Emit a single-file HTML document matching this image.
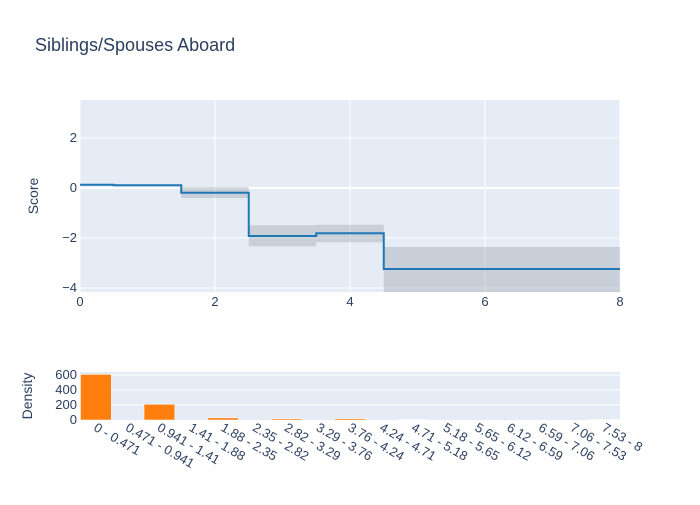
<!DOCTYPE html>
<html><head><meta charset="utf-8"><style>
body{margin:0;background:#fff}
svg{font-family:"Liberation Sans",sans-serif}
</style></head><body>
<svg id="chart" width="700" height="500">
<rect width="700" height="500" fill="#fff"/>
<text x="35" y="51" font-size="18" fill="#2a3f5f">Siblings/Spouses Aboard</text>
<rect x="80" y="100" width="540" height="192" fill="#e5ecf6"/>
<rect x="80" y="372" width="540" height="48" fill="#e5ecf6"/>
<g id="g1"></g><g id="g2"></g>
<text transform="translate(38,196) rotate(-90)" text-anchor="middle" font-size="14" fill="#2a3f5f">Score</text>
<text transform="translate(32,396) rotate(-90)" text-anchor="middle" font-size="14" fill="#2a3f5f">Density</text>
</svg>
<script>
const edges=[0,0.5,1.5,2.5,3.5,4.5,8];
const scores=[0.13,0.11,-0.19,-1.92,-1.81,-3.24];
const upper=[0.15,0.13,0.04,-1.49,-1.47,-2.36];
const lower=[0.11,0.09,-0.4,-2.33,-2.17,-4.5];
const xTicks=[0,2,4,6,8];
const yTicks=[-4,-2,0,2];
const bins=["0 - 0.471","0.471 - 0.941","0.941 - 1.41","1.41 - 1.88","1.88 - 2.35","2.35 - 2.82","2.82 - 3.29","3.29 - 3.76","3.76 - 4.24","4.24 - 4.71","4.71 - 5.18","5.18 - 5.65","5.65 - 6.12","6.12 - 6.59","6.59 - 7.06","7.06 - 7.53","7.53 - 8"];
const density=[608,0,209,0,28,0,16,0,18,0,5,0,0,0,0,0,7];
const dTicks=[0,200,400,600];
const NS="http://www.w3.org/2000/svg";
function mk(t,a,p){const e=document.createElementNS(NS,t);for(const k in a)e.setAttribute(k,a[k]);p.appendChild(e);return e;}
const X=v=>80+v/8*540, Y=v=>100+(3.52-v)/(3.52+4.16)*192;
const g1=document.getElementById('g1'),g2=document.getElementById('g2');
xTicks.forEach(t=>{
 let l=mk('line',{x1:X(t),x2:X(t),y1:100,y2:292,stroke:'#fff','stroke-width':1},g1);
 
 let tx=mk('text',{x:X(t),y:306,'text-anchor':'middle','font-size':13,fill:'#2a3f5f'},g1);tx.textContent=t;
 
});
yTicks.forEach(t=>{
 let l=mk('line',{x1:80,x2:620,y1:Y(t),y2:Y(t),stroke:'#fff','stroke-width':t===0?2:1},g1);
 
 let tx=mk('text',{x:77,y:Y(t)+4,'text-anchor':'end','font-size':13,fill:'#2a3f5f'},g1);tx.textContent=t<0?'\u2212'+(-t):t;
 
});
const clipY=v=>Math.min(292,Math.max(100,Y(v)));
scores.forEach((s,i)=>{
 const y1=clipY(upper[i]),y2=clipY(lower[i]);
 let r=mk('rect',{x:X(edges[i]),y:y1,width:X(edges[i+1])-X(edges[i]),height:y2-y1,fill:'rgba(160,165,175,0.4)'},g1);
 
});
let d='';
scores.forEach((s,i)=>{d+=(i?'L':'M')+X(edges[i])+','+Y(s)+'L'+X(edges[i+1])+','+Y(s);});
let p=mk('path',{d:d,fill:'none',stroke:'#1f77b4','stroke-width':2},g1);

const DY=v=>420-v/640*48, cw=540/bins.length;
dTicks.forEach(t=>{
 if(t>0){let l=mk('line',{x1:80,x2:620,y1:DY(t),y2:DY(t),stroke:'#fff','stroke-width':1},g2);
 }
 let tx=mk('text',{x:77,y:DY(t)+4,'text-anchor':'end','font-size':13,fill:'#2a3f5f'},g2);tx.textContent=t;
 
});
density.forEach((v,i)=>{
 let r=mk('rect',{x:80+i*cw+0.5,y:DY(v),width:cw-1,height:420-DY(v),fill:'#ff7f0e',stroke:'#fff','stroke-width':0.5},g2);
 
});
bins.forEach((b,i)=>{
 const cx=80+(i+0.5)*cw;
 let tx=mk('text',{x:0,y:0,'font-size':13,fill:'#2a3f5f',transform:`translate(${cx-3},${430}) rotate(30)`},g2);tx.textContent=b;
 
});
</script>
</body></html>
